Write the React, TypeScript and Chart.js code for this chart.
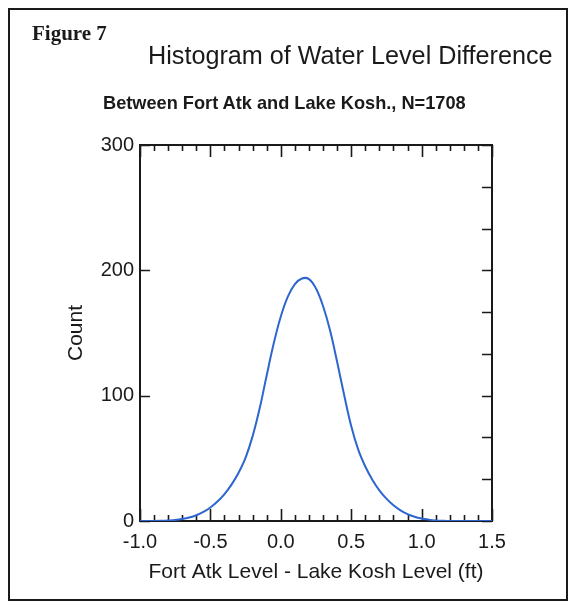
import React, { useEffect, useRef } from 'react';
import { Chart, registerables } from 'chart.js';

Chart.register(...registerables);

// Curve sample positions (ft) and counts
const xValues = [
  -1.0, -0.95, -0.9, -0.85, -0.8, -0.75, -0.7, -0.65, -0.6, -0.55,
  -0.5, -0.45, -0.4, -0.35, -0.3, -0.25, -0.2, -0.15, -0.1, -0.05,
  0.0, 0.05, 0.1, 0.15, 0.2, 0.25, 0.3, 0.35, 0.4, 0.45,
  0.5, 0.55, 0.6, 0.65, 0.7, 0.75, 0.8, 0.85, 0.9, 0.95,
  1.0, 1.05, 1.1, 1.15, 1.2, 1.25, 1.3, 1.35, 1.4, 1.45, 1.5,
];
const counts = [
  0, 0, 0, 0.15, 0.4, 0.8, 1.6, 2.8, 4.6, 7.2,
  10.8, 15.5, 21.5, 29, 38.5, 50.6, 67.7, 89.9, 116.3, 141.8,
  163.2, 179, 189, 193.5, 193, 185.5, 171.5, 152, 127, 100.5,
  75.8, 56.9, 43.5, 33, 24.5, 17.8, 12.5, 8.5, 5.5, 3.4,
  2, 1.1, 0.5, 0.2, 0, 0, 0, 0, 0, 0, 0,
];
const xMin = -1.0;
const xMax = 1.5;
const yMax = 300;
const yStep = 100;
const rightDivisions = 9;

const figureLabel = 'Figure 7';
const titleText = 'Histogram of Water Level Difference';
const subtitleText = 'Between Fort Atk and Lake Kosh., N=1708';
const xTitle = 'Fort Atk Level - Lake Kosh Level (ft)';
const yTitle = 'Count';

const isMajorX = (v: number) => Math.abs(v * 2 - Math.round(v * 2)) < 1e-6;

const tickPlugin = {
  id: 'frameTicks',
  beforeDatasetsDraw(chart: any) {
    const { ctx, chartArea: a, scales } = chart;
    ctx.save();
    ctx.strokeStyle = '#1a1a1a';
    ctx.lineWidth = 2;
    ctx.strokeRect(a.left, a.top, a.right - a.left, a.bottom - a.top);
    ctx.lineWidth = 1.6;
    ctx.beginPath();
    const xs = scales.x;
    xs.ticks.forEach((t: any) => {
      const px = Math.round(xs.getPixelForValue(t.value)) + 0.5;
      const len = isMajorX(t.value) ? 12 : 6;
      ctx.moveTo(px, a.bottom);
      ctx.lineTo(px, a.bottom - len);
      ctx.moveTo(px, a.top);
      ctx.lineTo(px, a.top + len);
    });
    const ys = scales.y;
    ys.ticks.forEach((t: any) => {
      const py = Math.round(ys.getPixelForValue(t.value)) + 0.5;
      ctx.moveTo(a.left, py);
      ctx.lineTo(a.left + 10, py);
    });
    const y2 = scales.y2;
    y2.ticks.forEach((t: any) => {
      const py = Math.round(y2.getPixelForValue(t.value)) + 0.5;
      ctx.moveTo(a.right, py);
      ctx.lineTo(a.right - 10, py);
    });
    ctx.stroke();
    ctx.restore();
  },
};

export default function App() {
  const ref = useRef<HTMLCanvasElement | null>(null);

  useEffect(() => {
    if (!ref.current) return;
    const chart = new Chart(ref.current, {
      type: 'line',
      data: {
        datasets: [
          {
            data: xValues.map((x, i) => ({ x, y: counts[i] })),
            borderColor: '#2d66cf',
            borderWidth: 2,
            pointRadius: 0,
            tension: 0.4,
            fill: false,
          },
        ],
      },
      options: {
        animation: false,
        responsive: false,
        maintainAspectRatio: false,
        layout: { padding: { left: 64, right: 79, top: 145, bottom: 18 } },
        plugins: { legend: { display: false }, tooltip: { enabled: false }, title: { display: false } },
        scales: {
          x: {
            type: 'linear',
            position: 'bottom',
            min: xMin,
            max: xMax,
            grid: { display: false, drawTicks: false },
            border: { display: false },
            ticks: {
              stepSize: 0.1,
              autoSkip: false,
              maxRotation: 0,
              padding: 9,
              color: '#1a1a1a',
              font: { family: 'Liberation Sans, Arial, sans-serif', size: 20 },
              callback: (v: any) => (isMajorX(Number(v)) ? Number(v).toFixed(1) : ''),
            },
            title: {
              display: true,
              text: xTitle,
              color: '#1a1a1a',
              padding: { top: 0, bottom: 0 },
              font: { family: 'Liberation Sans, Arial, sans-serif', size: 21 },
            },
            afterFit: (s: any) => {
              s.height = 64;
            },
          },
          y: {
            type: 'linear',
            position: 'left',
            min: 0,
            max: yMax,
            grid: { display: false, drawTicks: false },
            border: { display: false },
            ticks: {
              stepSize: yStep,
              padding: 6,
              color: '#1a1a1a',
              font: { family: 'Liberation Sans, Arial, sans-serif', size: 20 },
            },
            title: {
              display: true,
              text: yTitle,
              color: '#1a1a1a',
              padding: { top: 0, bottom: 0 },
              font: { family: 'Liberation Sans, Arial, sans-serif', size: 21 },
            },
            afterFit: (s: any) => {
              s.width = 76;
            },
          },
          y2: {
            type: 'linear',
            position: 'right',
            min: 0,
            max: rightDivisions,
            grid: { display: false, drawTicks: false },
            border: { display: false },
            ticks: { display: false, stepSize: 1 },
            afterFit: (s: any) => {
              s.width = 0;
            },
          },
        },
      } as any,
      plugins: [tickPlugin],
    });
    return () => chart.destroy();
  }, []);

  return (
    <div style={{ position: 'absolute', left: 0, top: 0, width: 571, height: 603, background: '#fff', overflow: 'hidden' }}>
      <div
        style={{
          position: 'absolute',
          left: 8,
          top: 8,
          width: 560,
          height: 593,
          border: '2px solid #1a1a1a',
          boxSizing: 'border-box',
        }}
      />
      <canvas ref={ref} width={571} height={603} style={{ position: 'absolute', left: 0, top: 0, width: 571, height: 603 }} />
      <div
        style={{
          position: 'absolute',
          left: 32,
          top: 23,
          fontFamily: 'Liberation Serif, Times New Roman, serif',
          fontWeight: 'bold',
          fontSize: 21,
          lineHeight: '21px',
          whiteSpace: 'nowrap',
          color: '#1a1a1a',
        }}
      >
        {figureLabel}
      </div>
      <div
        style={{
          position: 'absolute',
          left: 148,
          top: 43,
          fontFamily: 'Liberation Sans, Arial, sans-serif',
          fontSize: 25.2,
          lineHeight: '25px',
          whiteSpace: 'nowrap',
          color: '#1a1a1a',
        }}
      >
        {titleText}
      </div>
      <div
        style={{
          position: 'absolute',
          left: 103,
          top: 94,
          fontFamily: 'Liberation Sans, Arial, sans-serif',
          fontWeight: 'bold',
          fontSize: 18.2,
          lineHeight: '18px',
          whiteSpace: 'nowrap',
          color: '#1a1a1a',
        }}
      >
        {subtitleText}
      </div>
    </div>
  );
}
